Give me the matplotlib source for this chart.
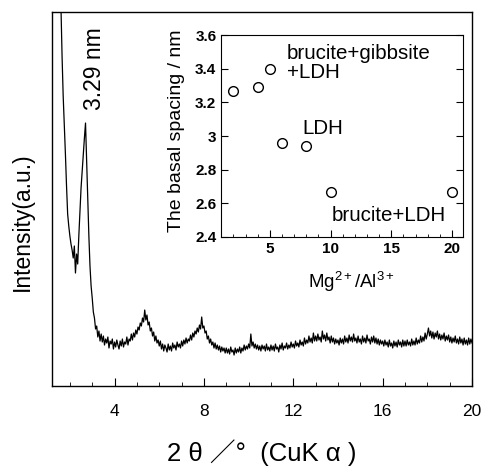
import numpy as np
import matplotlib
matplotlib.use("Agg")
import matplotlib.pyplot as plt
from matplotlib.ticker import MultipleLocator, FormatStrFormatter

plt.rcParams['font.family'] = ['Liberation Sans', 'DejaVu Sans']
plt.rcParams['mathtext.fontset'] = 'custom'
plt.rcParams['mathtext.rm'] = 'Liberation Sans'
plt.rcParams['mathtext.it'] = 'Liberation Sans:italic'
plt.rcParams['mathtext.bf'] = 'Liberation Sans:bold'

# XRD pattern, 2theta from 1.5 to 20.0 deg in 0.05 steps (intensity, a.u.)
two_theta = np.round(np.arange(1.5, 20.025, 0.05), 2)
intensity = [
    # 1.50 - 2.95
    560, 450, 380, 330, 290, 262, 232, 200, 172, 160,
    150, 142, 136, 128, 140, 113, 132, 122, 150, 175,
    198, 215, 232, 248, 263, 225, 188, 150, 120, 100,
    # 3.00 - 3.95
    88, 74, 68, 57, 60, 49, 55, 45, 52, 44, 50, 41, 47, 43, 49, 38, 45, 42, 47, 37,
    # 4
    44, 39, 46, 41, 37, 45, 40, 47, 39, 44, 42, 49, 41, 47, 45, 52, 46, 53, 49, 56,
    # 5
    52, 59, 56, 63, 60, 68, 64, 76, 66, 71, 61, 64, 55, 58, 50, 54, 45, 50, 43, 46,
    # 6
    40, 45, 37, 42, 35, 41, 38, 34, 42, 36, 40, 35, 43, 38, 41, 36, 44, 39, 42, 38,
    # 7
    45, 40, 46, 42, 48, 43, 47, 45, 51, 46, 53, 49, 55, 52, 58, 54, 61, 57, 69, 58,
    # 8
    60, 53, 55, 47, 50, 43, 47, 41, 44, 38, 43, 37, 41, 36, 40, 34, 39, 35, 38, 33,
    # 9
    38, 33, 37, 32, 39, 34, 36, 31, 38, 33, 37, 34, 39, 33, 38, 35, 41, 36, 40, 37,
    # 10
    42, 38, 52, 40, 44, 38, 42, 37, 41, 36, 40, 35, 41, 37, 40, 35, 42, 36, 39, 35,
    # 11
    41, 36, 40, 35, 42, 37, 39, 34, 41, 37, 43, 36, 40, 38, 43, 37, 41, 38, 44, 39,
    # 12
    42, 38, 45, 40, 43, 39, 46, 41, 44, 40, 48, 42, 46, 43, 50, 44, 48, 43, 53, 45,
    # 13
    50, 45, 52, 46, 49, 44, 55, 47, 51, 45, 53, 46, 49, 43, 50, 44, 48, 42, 47, 43,
    # 14
    46, 41, 48, 43, 47, 42, 50, 44, 48, 43, 51, 45, 49, 44, 52, 45, 48, 43, 50, 44,
    # 15
    47, 42, 50, 44, 48, 43, 51, 45, 47, 42, 49, 44, 50, 43, 48, 42, 47, 41, 46, 42,
    # 16
    45, 40, 46, 41, 44, 39, 46, 40, 43, 38, 45, 40, 44, 39, 46, 41, 44, 39, 46, 40,
    # 17
    45, 40, 46, 41, 44, 40, 47, 41, 45, 41, 48, 42, 46, 43, 50, 44, 49, 45, 53, 47,
    # 18
    52, 58, 50, 55, 48, 54, 47, 53, 49, 55, 47, 52, 46, 51, 47, 53, 45, 50, 46, 51,
    # 19 - 20
    44, 49, 43, 48, 44, 50, 43, 47, 42, 49, 43, 47, 41, 48, 42, 46, 41, 48, 42, 47,
    43,
]

# inset: basal spacing vs Mg/Al ratio
mg_al = [2, 4, 5, 6, 8, 10, 20]
basal_spacing = [3.27, 3.29, 3.40, 2.96, 2.94, 2.67, 2.67]

fig = plt.figure(figsize=(4.82, 4.68), dpi=100)
ax = fig.add_axes([0.1079, 0.1752, 0.8714, 0.7991])
ax.plot(two_theta, intensity, color='black', lw=0.9)
ax.set_xlim(1.2, 20)
ax.set_ylim(0, 374)
ax.xaxis.set_major_locator(MultipleLocator(4))
ax.xaxis.set_minor_locator(MultipleLocator(1))
ax.tick_params(axis='x', which='both', direction='in', top=False, labelsize=12.5, pad=13)
ax.tick_params(axis='x', which='major', length=6)
ax.tick_params(axis='x', which='minor', length=3)
ax.set_yticks([])
for s in ax.spines.values():
    s.set_linewidth(1.0)
ax.text(-0.071, 0.44, 'Intensity(a.u.)', transform=ax.transAxes, rotation=90,
        fontsize=16.5, ha='center', va='center')
ax.text(0.499, -0.179, '2 θ ／°  (CuK α )', transform=ax.transAxes, fontsize=18.5,
        ha='center', va='center', family=['Liberation Sans', 'Noto Sans CJK JP'])
ax.text(3.1, 317, '3.29 nm', rotation=90, fontsize=16.5, ha='center', va='center')

# inset
ins = fig.add_axes([0.459, 0.4936, 0.5013, 0.4316])
ins.plot(mg_al, basal_spacing, 'o', mfc='white', mec='black', mew=1.0, ms=7)
ins.set_xlim(1, 20.9)
ins.set_ylim(2.4, 3.6)
ins.xaxis.set_major_locator(MultipleLocator(5))
ins.xaxis.set_minor_locator(MultipleLocator(1))
ins.yaxis.set_major_locator(MultipleLocator(0.2))
ins.yaxis.set_major_formatter(FormatStrFormatter('%g'))
ins.tick_params(which='both', direction='in', right=True, top=False, labelsize=11)
ins.tick_params(which='major', length=5)
ins.tick_params(which='minor', length=2.5)
for lab in ins.get_xticklabels() + ins.get_yticklabels():
    lab.set_fontweight('bold')
ins.text(0.54, -0.223, 'Mg$^{\\mathrm{2+}}$/Al$^{\\mathrm{3+}}$', transform=ins.transAxes,
         fontsize=13.5, ha='center', va='center')
ins.text(-0.185, 0.525, 'The basal spacing / nm', transform=ins.transAxes, rotation=90,
         fontsize=14, ha='center', va='center')
ins.text(6.4, 3.49, 'brucite+gibbsite', fontsize=14.8, va='center')
ins.text(6.4, 3.38, '+LDH', fontsize=14.8, va='center')
ins.text(7.66, 3.045, 'LDH', fontsize=14.8, va='center')
ins.text(10.1, 2.53, 'brucite+LDH', fontsize=14.8, va='center')

fig.savefig('out.png', dpi=100)
